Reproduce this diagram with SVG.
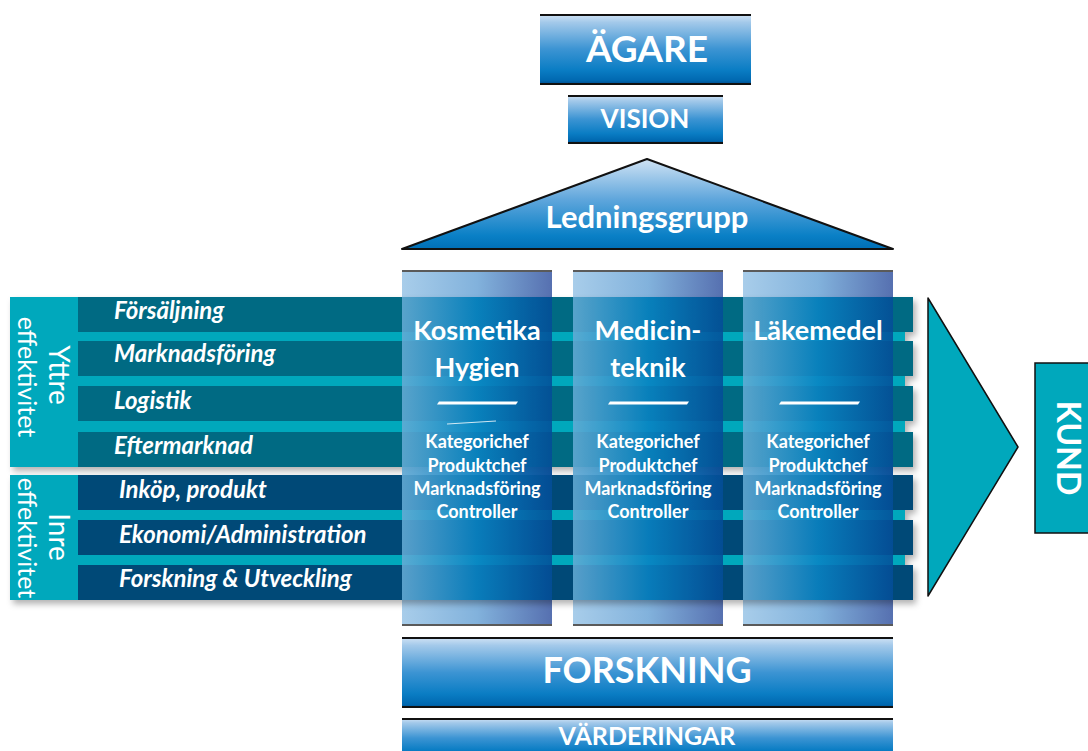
<svg xmlns="http://www.w3.org/2000/svg" width="1088" height="751" viewBox="0 0 1088 751">
<defs>
<linearGradient id="boxGrad" x1="0" y1="0" x2="0" y2="1">
<stop offset="0" stop-color="#d3e4f5"/>
<stop offset="0.12" stop-color="#a3c9ea"/>
<stop offset="0.5" stop-color="#3c94d3"/>
<stop offset="0.8" stop-color="#0a7dc4"/>
<stop offset="0.95" stop-color="#0068b0"/>
<stop offset="1" stop-color="#004f8f"/>
</linearGradient>
<linearGradient id="roofGrad" x1="0" y1="0" x2="0" y2="1">
<stop offset="0" stop-color="#d0e3f4"/>
<stop offset="0.45" stop-color="#5fa6dc"/>
<stop offset="0.85" stop-color="#0a80c6"/>
<stop offset="1" stop-color="#006fb6"/>
</linearGradient>
<linearGradient id="capGrad" x1="0" y1="0" x2="1" y2="0">
<stop offset="0" stop-color="#a8cdea"/>
<stop offset="0.5" stop-color="#82b2dc"/>
<stop offset="1" stop-color="#5670b0"/>
</linearGradient>
<linearGradient id="colGrad" x1="0" y1="0" x2="1" y2="0">
<stop offset="0" stop-color="#66acd6"/>
<stop offset="0.5" stop-color="#0a84c4"/>
<stop offset="1" stop-color="#044d98"/>
</linearGradient>
<filter id="shadow" x="-5%" y="-10%" width="110%" height="130%">
<feDropShadow dx="3" dy="4" stdDeviation="3" flood-color="#000" flood-opacity="0.3"/>
</filter>
</defs>
<style>
.t{font-family:Lato,"Liberation Sans",sans-serif;fill:#fff;font-weight:bold;text-anchor:middle}
.row{font-family:Lato,"Liberation Sans",sans-serif;fill:#fff;font-weight:bold;font-style:italic;font-size:24px}
.side{font-family:Lato,"Liberation Sans",sans-serif;fill:#fff;font-size:25px;text-anchor:middle}
.big{font-size:28px}
.edge{stroke:#111;stroke-width:2}
.capedge{stroke:#5a5a5a;stroke-width:2}
.cyan{fill:#00a8bc}
.teal{fill:#036a83}
.navy{fill:#024a77}
</style>

<g id="agare">
<rect x="540" y="14" width="211" height="70" fill="url(#boxGrad)"/>
<line class="edge" x1="540" y1="15" x2="751" y2="15"/>
<line class="edge" x1="540" y1="84" x2="751" y2="84"/>
<text class="t" x="647" y="62" font-size="37">ÄGARE</text>
</g>

<g id="vision">
<rect x="568" y="95" width="155" height="48" fill="url(#boxGrad)"/>
<line class="edge" x1="568" y1="96" x2="723" y2="96"/>
<line class="edge" x1="568" y1="143" x2="723" y2="143"/>
<text class="t" x="645" y="128" font-size="26">VISION</text>
</g>

<g id="ledningsgrupp">
<polygon points="647,159 893,249 402,249" fill="url(#roofGrad)" stroke="#111" stroke-width="2" stroke-linejoin="round"/>
<text class="t" x="647" y="228" font-size="31">Ledningsgrupp</text>
</g>

<g id="column-bases">
<rect x="402" y="270" width="150" height="356" fill="url(#capGrad)"/>
<rect x="573" y="270" width="150" height="356" fill="url(#capGrad)"/>
<rect x="743" y="270" width="150" height="356" fill="url(#capGrad)"/>
<g class="capedge">
<line x1="402" y1="271" x2="552" y2="271"/>
<line x1="573" y1="271" x2="723" y2="271"/>
<line x1="743" y1="271" x2="893" y2="271"/>
<line x1="402" y1="625" x2="552" y2="625"/>
<line x1="573" y1="625" x2="723" y2="625"/>
<line x1="743" y1="625" x2="893" y2="625"/>
</g>
</g>

<g id="yttre" filter="url(#shadow)">
<rect class="cyan" x="10" y="297" width="895" height="170"/>
<rect class="teal" x="78" y="297" width="835" height="35"/>
<rect class="teal" x="78" y="341" width="835" height="35"/>
<rect class="teal" x="78" y="386" width="835" height="35"/>
<rect class="teal" x="78" y="432" width="835" height="35"/>
</g>

<g id="inre" filter="url(#shadow)">
<rect class="cyan" x="10" y="475" width="895" height="125"/>
<rect class="navy" x="78" y="475" width="835" height="35"/>
<rect class="navy" x="78" y="520" width="835" height="35"/>
<rect class="navy" x="78" y="565" width="835" height="35"/>
</g>

<g id="column-overlays" opacity="0.87">
<rect x="402" y="297" width="150" height="303" fill="url(#colGrad)"/>
<rect x="573" y="297" width="150" height="303" fill="url(#colGrad)"/>
<rect x="743" y="297" width="150" height="303" fill="url(#colGrad)"/>
</g>

<g id="yttre-labels">
<text class="side big" transform="translate(49,375) rotate(90)">Yttre</text>
<text class="side" transform="translate(18,377) rotate(90)">effektivitet</text>
<text class="row" x="114" y="319">Försäljning</text>
<text class="row" x="114" y="362">Marknadsföring</text>
<text class="row" x="114" y="409">Logistik</text>
<text class="row" x="114" y="454">Eftermarknad</text>
</g>

<g id="inre-labels">
<text class="side big" transform="translate(49,537) rotate(90)">Inre</text>
<text class="side" transform="translate(18,538) rotate(90)">effektivitet</text>
<text class="row" x="119" y="498">Inköp, produkt</text>
<text class="row" x="119" y="543">Ekonomi/Administration</text>
<text class="row" x="119" y="587">Forskning &amp; Utveckling</text>
</g>

<g id="kosmetika">
<text class="t" x="477" y="340" font-size="27">Kosmetika</text>
<text class="t" x="477" y="377" font-size="27">Hygien</text>
<polygon points="439,401.5 518,401.5 516,404.5 437,404.5" fill="#fff"/>
<line x1="447" y1="424" x2="496" y2="421" stroke="#fff" stroke-width="1" opacity="0.8"/>
<text class="t" x="477" y="448" font-size="18">Kategorichef</text>
<text class="t" x="477" y="472" font-size="18">Produktchef</text>
<text class="t" x="477" y="495" font-size="18">Marknadsföring</text>
<text class="t" x="477" y="518" font-size="18">Controller</text>
</g>

<g id="medicinteknik">
<text class="t" x="648" y="340" font-size="27">Medicin-</text>
<text class="t" x="648" y="377" font-size="27">teknik</text>
<polygon points="610,401.5 689,401.5 687,404.5 608,404.5" fill="#fff"/>
<text class="t" x="648" y="448" font-size="18">Kategorichef</text>
<text class="t" x="648" y="472" font-size="18">Produktchef</text>
<text class="t" x="648" y="495" font-size="18">Marknadsföring</text>
<text class="t" x="648" y="518" font-size="18">Controller</text>
</g>

<g id="lakemedel">
<text class="t" x="818" y="340" font-size="27">Läkemedel</text>
<polygon points="781,401.5 860,401.5 858,404.5 779,404.5" fill="#fff"/>
<text class="t" x="818" y="448" font-size="18">Kategorichef</text>
<text class="t" x="818" y="472" font-size="18">Produktchef</text>
<text class="t" x="818" y="495" font-size="18">Marknadsföring</text>
<text class="t" x="818" y="518" font-size="18">Controller</text>
</g>

<g id="arrow">
<polygon points="928,298 1018,447 928,596" fill="#00a8bc" stroke="#111" stroke-width="1.5" stroke-linejoin="round"/>
</g>

<g id="kund">
<rect x="1035" y="363" width="60" height="170" fill="#00a8bc" stroke="#111" stroke-width="1.5"/>
<text class="t" transform="translate(1057,448) rotate(90)" font-size="32">KUND</text>
</g>

<g id="forskning">
<rect x="402" y="637" width="491" height="71" fill="url(#boxGrad)"/>
<line class="edge" x1="402" y1="638" x2="893" y2="638"/>
<line class="edge" x1="402" y1="707" x2="893" y2="707"/>
<text class="t" x="647" y="683" font-size="36">FORSKNING</text>
</g>

<g id="varderingar">
<rect x="402" y="718" width="491" height="40" fill="url(#boxGrad)"/>
<line class="edge" x1="402" y1="719" x2="893" y2="719"/>
<text class="t" x="647" y="745" font-size="25">VÄRDERINGAR</text>
</g>

<g id="connectors"></g>
</svg>
